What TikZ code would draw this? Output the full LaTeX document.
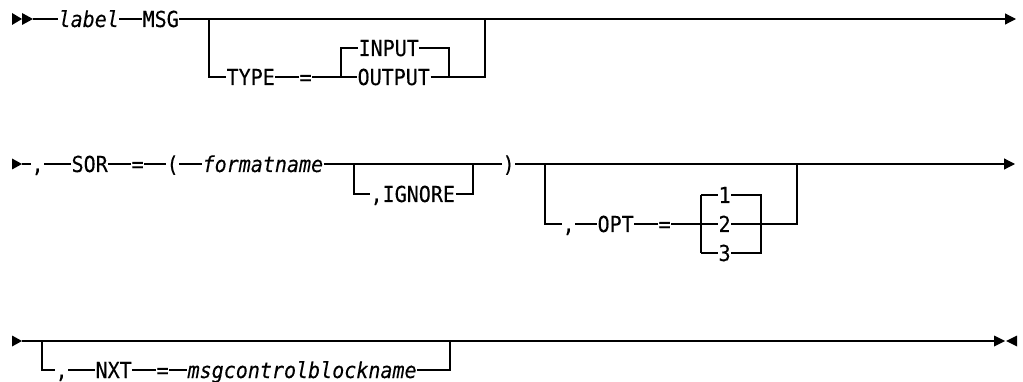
\documentclass[tikz,border=0pt]{standalone}
\usepackage{fontspec}
\setmonofont[FakeStretch=0.91,FakeBold=0.2]{DejaVu Sans Mono}
\usetikzlibrary{arrows.meta}
\begin{document}
\begin{tikzpicture}[x=1pt,y=-1pt,line width=1.2pt,
  t/.style={inner sep=0pt,anchor=west,text height=16pt,text depth=0pt,
    font=\ttfamily\fontsize{22}{22}\selectfont},
  it/.style={t,font=\ttfamily\itshape\fontsize{22}{22}\selectfont},
  endarrow/.style={-{Triangle[length=11pt,width=11pt]}}]
\useasboundingbox (0,0) rectangle (1023,382);
% ---------- row 1 ----------
\fill (12,13) -- (22,19) -- (12,25) -- cycle;
\fill (22,13) -- (33,19) -- (22,25) -- cycle;
\coordinate (s1) at (33,19);
\node[it] (label) at (58,19) {label};
\node[t] (msg) at (142,19) {MSG};
\coordinate (b1) at (209,19);
\node[t] (type) at (226,77) {TYPE};
\node[t] (eq1) at (299,77) {=};
\coordinate (s2l) at (341,77);
\coordinate (s2lu) at (341,48);
\node[t] (input) at (358,48) {INPUT};
\node[t] (output) at (357,77) {OUTPUT};
\coordinate (s2r) at (449,77);
\coordinate (b1r) at (485,77);
\coordinate (b1ru) at (485,19);
\coordinate (e1) at (1016,19);
\draw (s1) -- (label.west);
\draw (label.east) -- (msg.west);
\draw[endarrow] (msg.east) -- (e1);
\draw (b1) |- (type.west);
\draw (type.east) -- (eq1.west);
\draw (eq1.east) -- (output.west);
\draw (s2l) -- (s2lu) -- (input.west);
\draw (input.east) -| (s2r);
\draw (output.east) -- (s2r) -- (b1r) -- (b1ru);
% ---------- row 2 ----------
\fill (12,158.5) -- (22,164) -- (12,169.5) -- cycle;
\coordinate (s3) at (22,164);
\node[t] (c1) at (31,164) {,};
\node[t] (sor) at (71,164) {SOR};
\node[t] (eq2) at (131,164) {=};
\node[t] (lp) at (166,164) {(};
\node[it] (fmt) at (202,164) {formatname};
\coordinate (b2) at (354,164);
\node[t] (ign) at (370,194) {,IGNORE};
\coordinate (b2r) at (473,164);
\node[t] (rp) at (502,164) {)};
\coordinate (b3) at (545,164);
\node[t] (c2) at (562,224) {,};
\node[t] (opt) at (597,224) {OPT};
\node[t] (eq3) at (658,224) {=};
\coordinate (s4l) at (701,224);
\coordinate (s4lu) at (701,195);
\coordinate (s4ld) at (701,253);
\node[t] (n1) at (718,195) {1};
\node[t] (n2) at (718,224) {2};
\node[t] (n3) at (718,253) {3};
\coordinate (s4r) at (761,224);
\coordinate (s4ru) at (761,195);
\coordinate (s4rd) at (761,253);
\coordinate (b3r) at (797,224);
\coordinate (b3ru) at (797,164);
\coordinate (e2) at (1015,164);
\draw (s3) -- (c1.west);
\draw (c1.east) -- (sor.west);
\draw (sor.east) -- (eq2.west);
\draw (eq2.east) -- (lp.west);
\draw (lp.east) -- (fmt.west);
\draw (fmt.east) -- (rp.west);
\draw (b2) |- (ign.west);
\draw (ign.east) -| (b2r);
\draw[endarrow] (rp.east) -- (e2);
\draw (b3) |- (c2.west);
\draw (c2.east) -- (opt.west);
\draw (opt.east) -- (eq3.west);
\draw (eq3.east) -- (n2.west);
\draw (s4lu) -- (s4ld);
\draw (s4lu) -- (n1.west);
\draw (s4ld) -- (n3.west);
\draw (n1.east) -- (s4ru) -- (s4rd) -- (n3.east);
\draw (n2.east) -- (b3r) -- (b3ru);
% ---------- row 3 ----------
\fill (12,335.5) -- (22,341) -- (12,346.5) -- cycle;
\coordinate (s5) at (22,341);
\coordinate (b4) at (42,341);
\node[t] (c3) at (55,370) {,};
\node[t] (nxt) at (95,370) {NXT};
\node[t] (eq4) at (156,370) {=};
\node[it] (mcb) at (187,370) {msgcontrolblockname};
\coordinate (b4r) at (450,370);
\coordinate (b4ru) at (450,341);
\coordinate (e3) at (994,341);
\draw (s5) -- (e3);
\draw (b4) |- (c3.west);
\draw (c3.east) -- (nxt.west);
\draw (nxt.east) -- (eq4.west);
\draw (eq4.east) -- (mcb.west);
\draw (mcb.east) -- (b4r) -- (b4ru);
\draw[line width=1.8pt] (455,340.5) -- (472,340.5);
\fill (994,335.5) -- (1005,341) -- (994,346.5) -- cycle;
\fill (1017,335.5) -- (1006,341) -- (1017,346.5) -- cycle;
\end{tikzpicture}
\end{document}
